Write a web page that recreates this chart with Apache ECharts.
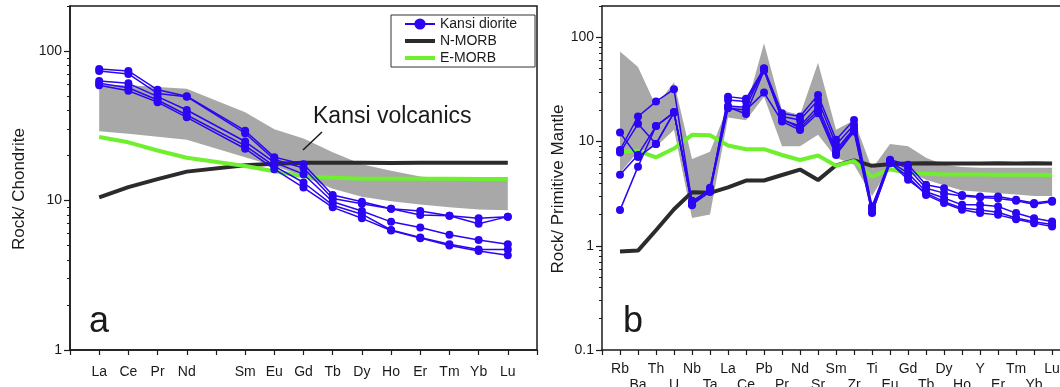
<!DOCTYPE html>
<html>
<head>
<meta charset="utf-8">
<script src="https://cdn.jsdelivr.net/npm/echarts@6/dist/echarts.min.js"></script>
<style>
  html, body { margin: 0; padding: 0; background: #fff; }
  #chart { width: 1060px; height: 387px; }
</style>
</head>
<body>
<div id="chart"></div>
<script>
// ---- panel a: chondrite-normalised REE (Pm has no data) ----
var ree = ['La', 'Ce', 'Pr', 'Nd', 'Pm', 'Sm', 'Eu', 'Gd', 'Tb', 'Dy', 'Ho', 'Er', 'Tm', 'Yb', 'Lu'];
var dioriteReeA = [75.8, 73.5, 55, 49.8, null, 29.3, 19.5, 17.5, 10.9, 9.8, 8.8, 8.5, 7.9, 7.6, 7.8];
var dioriteReeB = [73.5, 70.3, 52, 49.5, null, 28.2, 18.8, 16.5, 10.3, 9.5, 8.8, 8.0, 7.9, 7.0, 7.8];
var dioriteReeC = [63, 60.8, 49.5, 40.3, null, 24.8, 18.0, 15.0, 9.8, 8.5, 7.2, 6.6, 5.9, 5.45, 5.1];
var dioriteReeD = [60.8, 56.8, 47, 37.3, null, 23.3, 17.0, 13.2, 9.3, 8.1, 6.35, 5.65, 5.1, 4.7, 4.7];
var dioriteReeE = [59, 54.2, 45.5, 36, null, 22.2, 16.2, 12.2, 9.0, 7.6, 6.3, 5.6, 5.0, 4.6, 4.3];
var nmorbRee = [10.5, 12.3, 13.9, 15.6, null, 17.2, 17.6, 17.9, 17.9, 17.9, 17.8, 17.9, 17.9, 17.9, 17.9];
var emorbRee = [26.6, 24.5, 21.6, 19.3, null, 17.0, 15.7, 14.5, 14.2, 14.0, 14.0, 14.0, 14.0, 13.9, 13.9];
var volcReeLow = [29, 28, 26.7, 25.5, null, 19.5, 17, 14.5, 12, 10.6, 9.9, 9.4, 9.0, 8.7, 8.6];
var volcReeHigh = [59.5, 59, 57.5, 56, null, 39, 30, 26, 21, 17.5, 15.8, 14.5, 14.0, 13.8, 13.6];
var ticksA = [1, 10, 100];

// ---- panel b: primitive-mantle-normalised spider diagram ----
var elems = ['Rb', 'Ba', 'Th', 'U', 'Nb', 'Ta', 'La', 'Ce', 'Pb', 'Pr', 'Nd', 'Sr', 'Sm',
             'Zr', 'Ti', 'Eu', 'Gd', 'Tb', 'Dy', 'Ho', 'Y', 'Er', 'Tm', 'Yb', 'Lu'];
var dioriteSpA = [12.2, 7.1, 9.5, 19.1, 2.5, 3.3, 27, 25.7, 50.6, 18.7, 17.4, 28, 10.4, 16.1, 2.4, 6.7, 6.0, 3.85, 3.57, 3.08, 2.97, 2.97, 2.76, 2.57, 2.7];
var dioriteSpB = [8.3, 17.4, 24.2, 31.8, 2.6, 3.5, 25.1, 24.2, 48.7, 17.4, 16.1, 25.1, 9.3, 14.5, 2.3, 6.5, 5.56, 3.57, 3.2, 3.0, 2.9, 2.85, 2.7, 2.5, 2.65];
var dioriteSpC = [7.85, 14.8, 9.5, 19.1, 2.7, 3.4, 22, 21.4, 50, 16.1, 14.1, 21.7, 8.3, 13.4, 2.2, 6.4, 4.98, 3.3, 2.87, 2.47, 2.47, 2.38, 2.06, 1.84, 1.71];
var dioriteSpD = [4.8, 7.45, 14.1, 19.1, 2.5, 3.3, 20.9, 20.1, 29.5, 15.6, 12.9, 18.7, 7.45, 12.5, 2.06, 6.2, 4.6, 3.08, 2.57, 2.22, 2.06, 1.98, 1.8, 1.65, 1.53];
var dioriteSpE = [2.2, 5.75, 14.1, 19.1, 2.45, 3.6, 21.5, 18.4, 48, 16.5, 13.5, 20, 7.8, 13, 2.1, 6.3, 4.3, 3.2, 2.65, 2.3, 2.2, 2.1, 1.85, 1.7, 1.6];
var nmorbSp = [0.88, 0.90, 1.41, 2.24, 3.27, 3.22, 3.64, 4.23, 4.23, 4.78, 5.39, 4.27, 5.92, 6.6, 5.85, 6.07, 6.17, 6.2, 6.17, 6.16, 6.15, 6.19, 6.16, 6.19, 6.15];
var emorbSp = [7.94, 8.16, 7.06, 8.57, 11.6, 11.5, 9.17, 8.45, 8.45, 7.43, 6.65, 7.35, 5.86, 6.52, 4.6, 5.42, 4.98, 4.9, 4.82, 4.82, 4.84, 4.81, 4.81, 4.81, 4.78];
var volcSpLow = [5, 8, 8.9, 13, 1.85, 2.0, 17, 16, 27, 9, 9, 11.6, 7, 6, 3.0, 5.8, 5.2, 4.3, 3.8, 3.4, 3.3, 3.2, 3.1, 3.0, 3.0];
var volcSpHigh = [73, 52, 22, 37, 6.8, 8, 22, 21, 88, 20, 18, 57, 13, 16, 5.5, 9.5, 9, 7, 6, 5.7, 5.6, 5.6, 5.6, 5.6, 5.6];
var ticksB = [0.1, 1, 10, 100];

var BLUE = '#2a06f2', BLACK = '#2b2b2b', GREEN = '#6ef02e', GREY = '#a8a8a8', INK = '#1a1a1a';
var FONT = 'Liberation Sans, Arial, sans-serif';
// thin bar inside a 30x14 box, so the legend shows a plain line for the MORB curves
var LINE_ICON = 'path://M0,0L30,0L30,0.05L0,0.05ZM0,5L30,5L30,9L0,9ZM0,13.95L30,13.95L30,14L0,14Z';

function pairs(vals) {
    var out = [];
    vals.forEach(function (v, i) {
        if (v != null) out.push([i + 1, v]);
    });
    return out;
}

function minors(lo, hi) {
    var out = [];
    for (var d = lo; d < hi; d *= 10) {
        for (var k = 2; k <= 9; k++) {
            if (k * d <= hi) out.push(+(k * d).toPrecision(3));
        }
    }
    return out;
}

function range(a, b) {
    var out = [];
    for (var i = a; i <= b; i++) out.push(i);
    return out;
}

// grey field of the Kansi volcanics: one polygon, upper edge then lower edge back
function bandSeries(gi, lo, hi) {
    var top = pairs(hi), bottom = pairs(lo).reverse();
    return {
        type: 'custom', name: 'Kansi volcanics', xAxisIndex: gi * 2, yAxisIndex: gi * 2,
        silent: true, data: top,
        renderItem: function (params, api) {
            if (params.dataIndex !== 0) return;
            var pts = top.concat(bottom).map(function (p) { return api.coord(p); });
            return { type: 'polygon', shape: { points: pts }, style: { fill: GREY } };
        }
    };
}

function refLine(gi, name, vals, color) {
    return {
        type: 'line', name: name, xAxisIndex: gi * 2, yAxisIndex: gi * 2,
        data: pairs(vals), symbol: 'none',
        lineStyle: { color: color, width: 4 }, itemStyle: { color: color }
    };
}

function sampleLine(gi, vals) {
    return {
        type: 'line', name: 'Kansi diorite', xAxisIndex: gi * 2, yAxisIndex: gi * 2,
        data: pairs(vals), symbol: 'circle', symbolSize: 8,
        lineStyle: { color: BLUE, width: 1.5 }, itemStyle: { color: BLUE }
    };
}

function logAxis(gi, min, max, majors, name, nameGap) {
    return [{
        type: 'log', gridIndex: gi, min: min, max: max, position: 'left',
        name: name, nameLocation: 'middle', nameGap: nameGap,
        nameTextStyle: { fontSize: 17, color: INK, fontFamily: FONT, padding: [0, 22, 0, 0] },
        axisLine: { show: true, lineStyle: { color: INK, width: 1.5 } },
        axisTick: { show: true, length: 6, customValues: majors, lineStyle: { color: INK, width: 1.2 } },
        axisLabel: { customValues: majors, margin: 8, fontSize: 14, color: INK, fontFamily: FONT,
                     formatter: function (v) { return String(v); } },
        splitLine: { show: false }
    }, {
        type: 'log', gridIndex: gi, min: min, max: max, position: 'left', offset: 0,
        axisLine: { show: false },
        axisTick: { show: true, length: 3, customValues: minors(min, max), lineStyle: { color: INK, width: 1 } },
        axisLabel: { show: false },
        splitLine: { show: false }
    }];
}

var chart = echarts.init(document.getElementById('chart'), null, { renderer: 'canvas' });

var series = []
    .concat([bandSeries(0, volcReeLow, volcReeHigh)])
    .concat([refLine(0, 'N-MORB', nmorbRee, BLACK), refLine(0, 'E-MORB', emorbRee, GREEN)])
    .concat([dioriteReeA, dioriteReeB, dioriteReeC, dioriteReeD, dioriteReeE].map(function (v) { return sampleLine(0, v); }))
    .concat([bandSeries(1, volcSpLow, volcSpHigh)])
    .concat([refLine(1, 'N-MORB', nmorbSp, BLACK), refLine(1, 'E-MORB', emorbSp, GREEN)])
    .concat([dioriteSpA, dioriteSpB, dioriteSpC, dioriteSpD, dioriteSpE].map(function (v) { return sampleLine(1, v); }));

var option = {
    animation: false,
    backgroundColor: '#fff',
    textStyle: { fontFamily: FONT },
    grid: [
        { left: 70, top: 6, width: 467, height: 344, outerBoundsMode: 'none',
          show: true, borderColor: INK, borderWidth: 1.5 },
        // right part of panel b runs off the page, as in the source figure
        { left: 602, top: 6, width: 458, height: 344, outerBoundsMode: 'none' }
    ],
    xAxis: [{
        type: 'value', gridIndex: 0, min: 0, max: 16,
        axisLine: { show: true, lineStyle: { color: INK, width: 1.5 } },
        axisTick: { show: true, length: 5, customValues: range(0, 16), lineStyle: { color: INK, width: 1.2 } },
        axisLabel: {
            customValues: range(1, 15).filter(function (v) { return ree[v - 1] !== 'Pm'; }),
            margin: 15, fontSize: 14, color: INK, fontFamily: FONT,
            formatter: function (v) { return ree[v - 1] || ''; }
        },
        splitLine: { show: false }
    }, {
        type: 'value', gridIndex: 0, min: 0, max: 16, position: 'top', show: false
    }, {
        type: 'value', gridIndex: 1, min: 0, max: 25.44,
        axisLine: { show: true, lineStyle: { color: INK, width: 1.5 } },
        axisTick: { show: true, length: 5, customValues: range(0, 25), lineStyle: { color: INK, width: 1.2 } },
        axisLabel: {
            customValues: range(1, 25), margin: 11, fontSize: 14, lineHeight: 16, color: INK, fontFamily: FONT,
            formatter: function (v) {
                var i = v - 1;
                return i % 2 === 0 ? elems[i] : '\n' + elems[i];
            }
        },
        splitLine: { show: false }
    }, {
        type: 'value', gridIndex: 1, min: 0, max: 25.44, position: 'top',
        axisLine: { show: true, onZero: false, lineStyle: { color: INK, width: 1.5 } },
        axisTick: { show: false }, axisLabel: { show: false }, splitLine: { show: false }
    }],
    yAxis: logAxis(0, 1, 200, ticksA, 'Rock/ Chondrite', 42)
        .concat(logAxis(1, 0.1, 200, ticksB, 'Rock/ Primitive Mantle', 22)),
    legend: {
        data: [
            { name: 'Kansi diorite' },
            { name: 'N-MORB', icon: LINE_ICON },
            { name: 'E-MORB', icon: LINE_ICON }
        ],
        orient: 'vertical', left: 391, top: 15,
        itemWidth: 30, itemHeight: 14, itemGap: 3,
        padding: [2, 18, 2, 13],
        backgroundColor: '#fff', borderColor: '#333', borderWidth: 1, borderRadius: 0,
        textStyle: { fontSize: 14, color: INK, fontFamily: FONT }
    },
    graphic: [
        { type: 'text', x: 313, y: 105, z: 100,
          style: { text: 'Kansi volcanics', font: '23px ' + FONT, fill: INK } },
        { type: 'line', z: 100, shape: { x1: 303, y1: 150, x2: 322, y2: 132 },
          style: { stroke: INK, lineWidth: 1.5 } },
        { type: 'text', x: 89, y: 304, z: 100,
          style: { text: 'a', font: '36px ' + FONT, fill: INK } },
        { type: 'text', x: 623, y: 304, z: 100,
          style: { text: 'b', font: '36px ' + FONT, fill: INK } }
    ],
    series: series
};

chart.setOption(option);
</script>
</body>
</html>
